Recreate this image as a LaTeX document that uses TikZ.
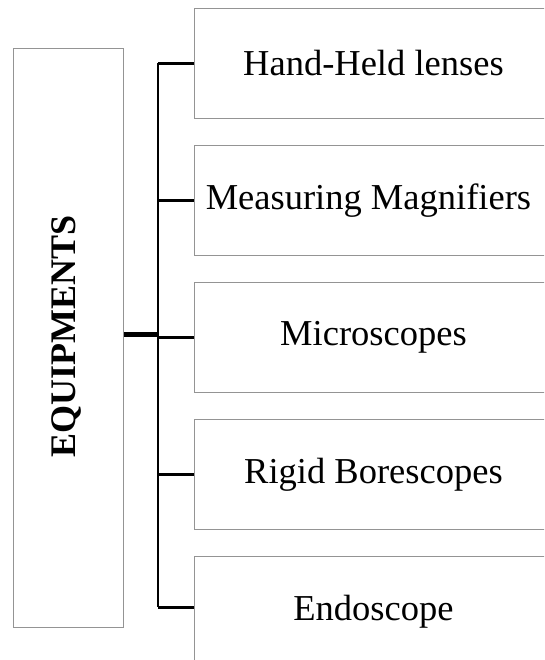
\documentclass[tikz,border=0pt]{standalone}
\usepackage{fontspec}
\setmainfont{Liberation Serif}
\usetikzlibrary{calc}
\begin{document}
\begin{tikzpicture}[x=1pt,y=-1pt,
  itembox/.style={draw=black!42,line width=0.9pt,rectangle,
    minimum width=358pt,minimum height=110pt,inner sep=0pt,
    anchor=north west,font=\fontsize{36.5}{40}\selectfont},
  headbox/.style={draw=black!42,line width=0.9pt,rectangle,
    minimum width=110pt,minimum height=579pt,inner sep=0pt,anchor=north west},
  link/.style={draw=black,line width=2.2pt},
  mainlink/.style={draw=black,line width=5.5pt}]
\useasboundingbox (0,0) rectangle (544,660);
\clip (0,0) rectangle (544,660);
\fill[white] (0,0) rectangle (544,660);

% category heading
\node[headbox] (eq) at (13,48) {};
\node[rotate=90,font=\bfseries\fontsize{36}{40}\selectfont] (eqtext) at (66,336) {EQUIPMENTS};

% item boxes
\node[itembox] (b1) at (194,8)   {Hand-Held lenses};
\node[itembox] (b2) at (194,145) {\hspace*{-10pt}Measuring Magnifiers};
\node[itembox] (b3) at (194,282) {Microscopes};
\node[itembox] (b4) at (194,419) {Rigid Borescopes};
\node[itembox] (b5) at (194,556) {Endoscope};

% connectors
\coordinate (tr) at (158,0);
\draw[link] (b1.west -| tr) -- ($(b5.west -| tr)+(0,-4)$);
\foreach \b in {b1,b2,b3,b4}
  \draw[link] (\b.west) -- (\b.west -| tr);
\draw[link] ($(b5.west)+(0,-4)$) -- ($(b5.west -| tr)+(0,-4)$);
\draw[mainlink] (eq.east |- 0,334.5) -- (tr |- 0,334.5);
\end{tikzpicture}
\end{document}
